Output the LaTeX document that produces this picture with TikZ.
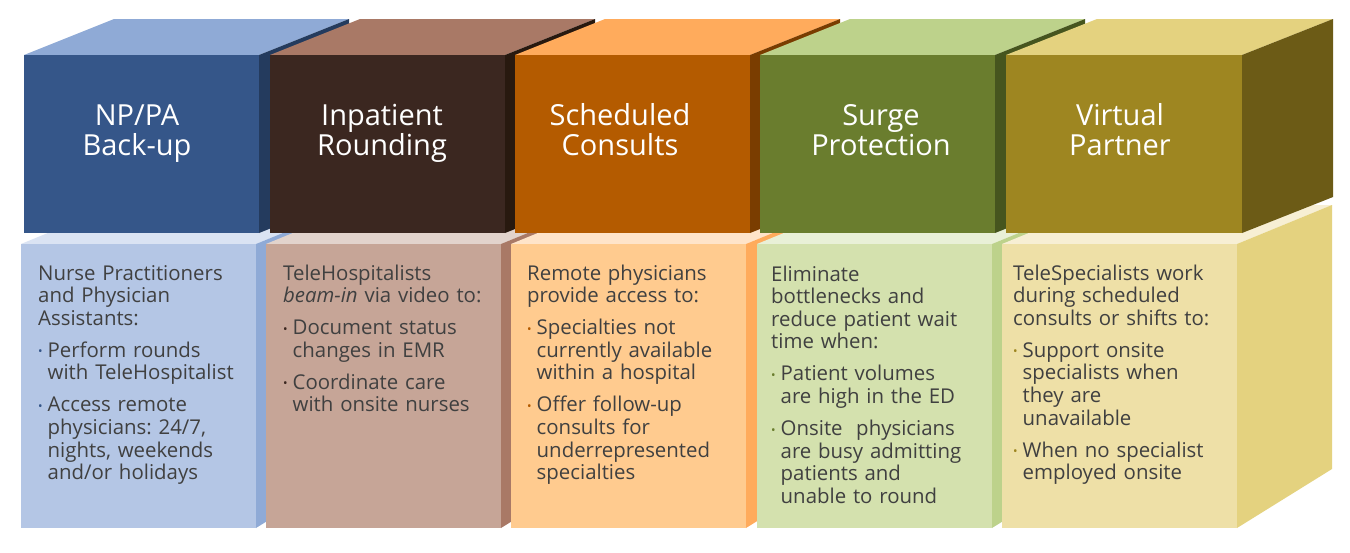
\documentclass[tikz,border=0pt]{standalone}
\usepackage{fontspec}
\setmainfont{Open Sans}
% block 1 blue
\definecolor{aTfront}{HTML}{355689}\definecolor{aTtop}{HTML}{8FAAD6}\definecolor{aTside}{HTML}{243B5E}
\definecolor{aBfront}{HTML}{B4C6E5}\definecolor{aBtop}{HTML}{DAE3F3}\definecolor{aBside}{HTML}{8FAAD6}
% block 2 brown
\definecolor{bTfront}{HTML}{3B2720}\definecolor{bTtop}{HTML}{A97966}\definecolor{bTside}{HTML}{28190F}
\definecolor{bBfront}{HTML}{C6A597}\definecolor{bBtop}{HTML}{E2D3CC}\definecolor{bBside}{HTML}{A97966}
% block 3 orange
\definecolor{cTfront}{HTML}{B45B00}\definecolor{cTtop}{HTML}{FFAB5C}\definecolor{cTside}{HTML}{7A3D00}
\definecolor{cBfront}{HTML}{FFCB8F}\definecolor{cBtop}{HTML}{FFE4C9}\definecolor{cBside}{HTML}{FFAB5C}
% block 4 green
\definecolor{dTfront}{HTML}{6A7D2E}\definecolor{dTtop}{HTML}{BDD28B}\definecolor{dTside}{HTML}{46551E}
\definecolor{dBfront}{HTML}{D4E1AE}\definecolor{dBtop}{HTML}{E9F0D7}\definecolor{dBside}{HTML}{BDD28B}
% block 5 olive
\definecolor{eTfront}{HTML}{9E8621}\definecolor{eTtop}{HTML}{E4D27F}\definecolor{eTside}{HTML}{6C5B16}
\definecolor{eBfront}{HTML}{EEE0A7}\definecolor{eBtop}{HTML}{F7EFD4}\definecolor{eBside}{HTML}{E4D27F}
\definecolor{txt}{HTML}{404040}

\newcommand\drawcube[8]{%
  \fill[#8top] (#1,#2) -- (#1+#5,#6) -- (#1+#4+#5,#6) -- (#1+#4,#2) -- cycle;
  \fill[#8side] (#1+#4,#2) -- (#1+#4+#5,#6) -- (#1+#4+#5,#7) -- (#1+#4,#3) -- cycle;
  \fill[#8front] (#1,#2) rectangle (#1+#4,#3);
}
\newcommand\bpt[2]{\par\hangindent=9.5pt\hangafter=1\noindent
  \makebox[9.5pt][l]{\raisebox{1.4pt}{\textcolor{#1}{\fontsize{12}{12}\selectfont\textbullet}}}%
  {\let\\\newline #2}\par}
\newcommand\bodystart{\setlength{\parskip}{9.4pt}\setlength{\parindent}{0pt}\frenchspacing}

\tikzset{
  x=1pt, y=-1pt,
  titletext/.style={text=white, font=\fontsize{29}{30}\selectfont, inner sep=0pt, anchor=base},
  bodytext/.style={text=txt, text width=232pt, align=left, inner sep=0pt, anchor=base west,
    font=\fontsize{20.4}{22.6}\selectfont},
}

\begin{document}
\begin{tikzpicture}
\useasboundingbox (0,0) rectangle (1350,552);
\fill[white] (0,0) rectangle (1350,552);

% lower boxes
\drawcube{21}{244}{528}{235}{95}{205}{469}{aB}
\drawcube{266}{244}{528}{235}{95}{205}{469}{bB}
\drawcube{511}{244}{528}{235}{95}{205}{469}{cB}
\drawcube{757}{244}{528}{235}{95}{205}{469}{dB}
\drawcube{1002}{244}{528}{235}{95}{205}{469}{eB}

% upper cubes
\drawcube{24}{55}{233}{235}{90}{19}{197}{aT}
\drawcube{270}{55}{233}{235}{90}{19}{197}{bT}
\drawcube{515}{55}{233}{235}{90}{19}{197}{cT}
\drawcube{760}{55}{233}{235}{90}{19}{197}{dT}
\drawcube{1006}{55}{233}{236}{91}{19}{197}{eT}

% titles
\node[titletext] (t1a) at (137,125) {NP/PA};
\node[titletext] (t1b) at (137,155) {Back-up};
\node[titletext] (t2a) at (382,125) {Inpatient};
\node[titletext] (t2b) at (382,155) {Rounding};
\node[titletext] (t3a) at (620,125) {Scheduled};
\node[titletext] (t3b) at (620,155) {Consults};
\node[titletext] (t4a) at (881,125) {Surge};
\node[titletext] (t4b) at (881,155) {Protection};
\node[titletext] (t5a) at (1120,125) {Virtual};
\node[titletext] (t5b) at (1120,155) {Partner};

% body texts
\node[bodytext] (b1) at (38,280) {\bodystart
Nurse Practitioners\\and Physician\\Assistants:
\bpt{aTfront}{Perform rounds\\with TeleHospitalist}
\bpt{aTfront}{Access remote\\physicians: 24/7,\\nights, weekends\\and/or holidays}};

\node[bodytext] (b2) at (283,280) {\bodystart
TeleHospitalists\\\textit{beam-in} via video to:
\bpt{bTfront}{Document status\\changes in EMR}
\bpt{bTfront}{Coordinate care\\with onsite nurses}};

\node[bodytext] (b3) at (527,280) {\bodystart
Remote physicians\\provide access to:
\bpt{cTfront}{Specialties not\\currently available\\within a hospital}
\bpt{cTfront}{Offer follow-up\\consults for\\underrepresented\\specialties}};

\node[bodytext] (b4) at (771,281) {\bodystart
Eliminate\\bottlenecks and\\reduce patient wait\\time when:
\bpt{dTfront}{Patient volumes\\are high in the ED}
\bpt{dTfront}{Onsite\ \ physicians\\are busy admitting\\patients and\\unable to round}};

\node[bodytext] (b5) at (1013,280) {\bodystart
TeleSpecialists work\\during scheduled\\consults or shifts to:
\bpt{eTfront}{Support onsite\\specialists when\\they are\\unavailable}
\bpt{eTfront}{When no specialist\\employed onsite}};
\end{tikzpicture}
\end{document}
